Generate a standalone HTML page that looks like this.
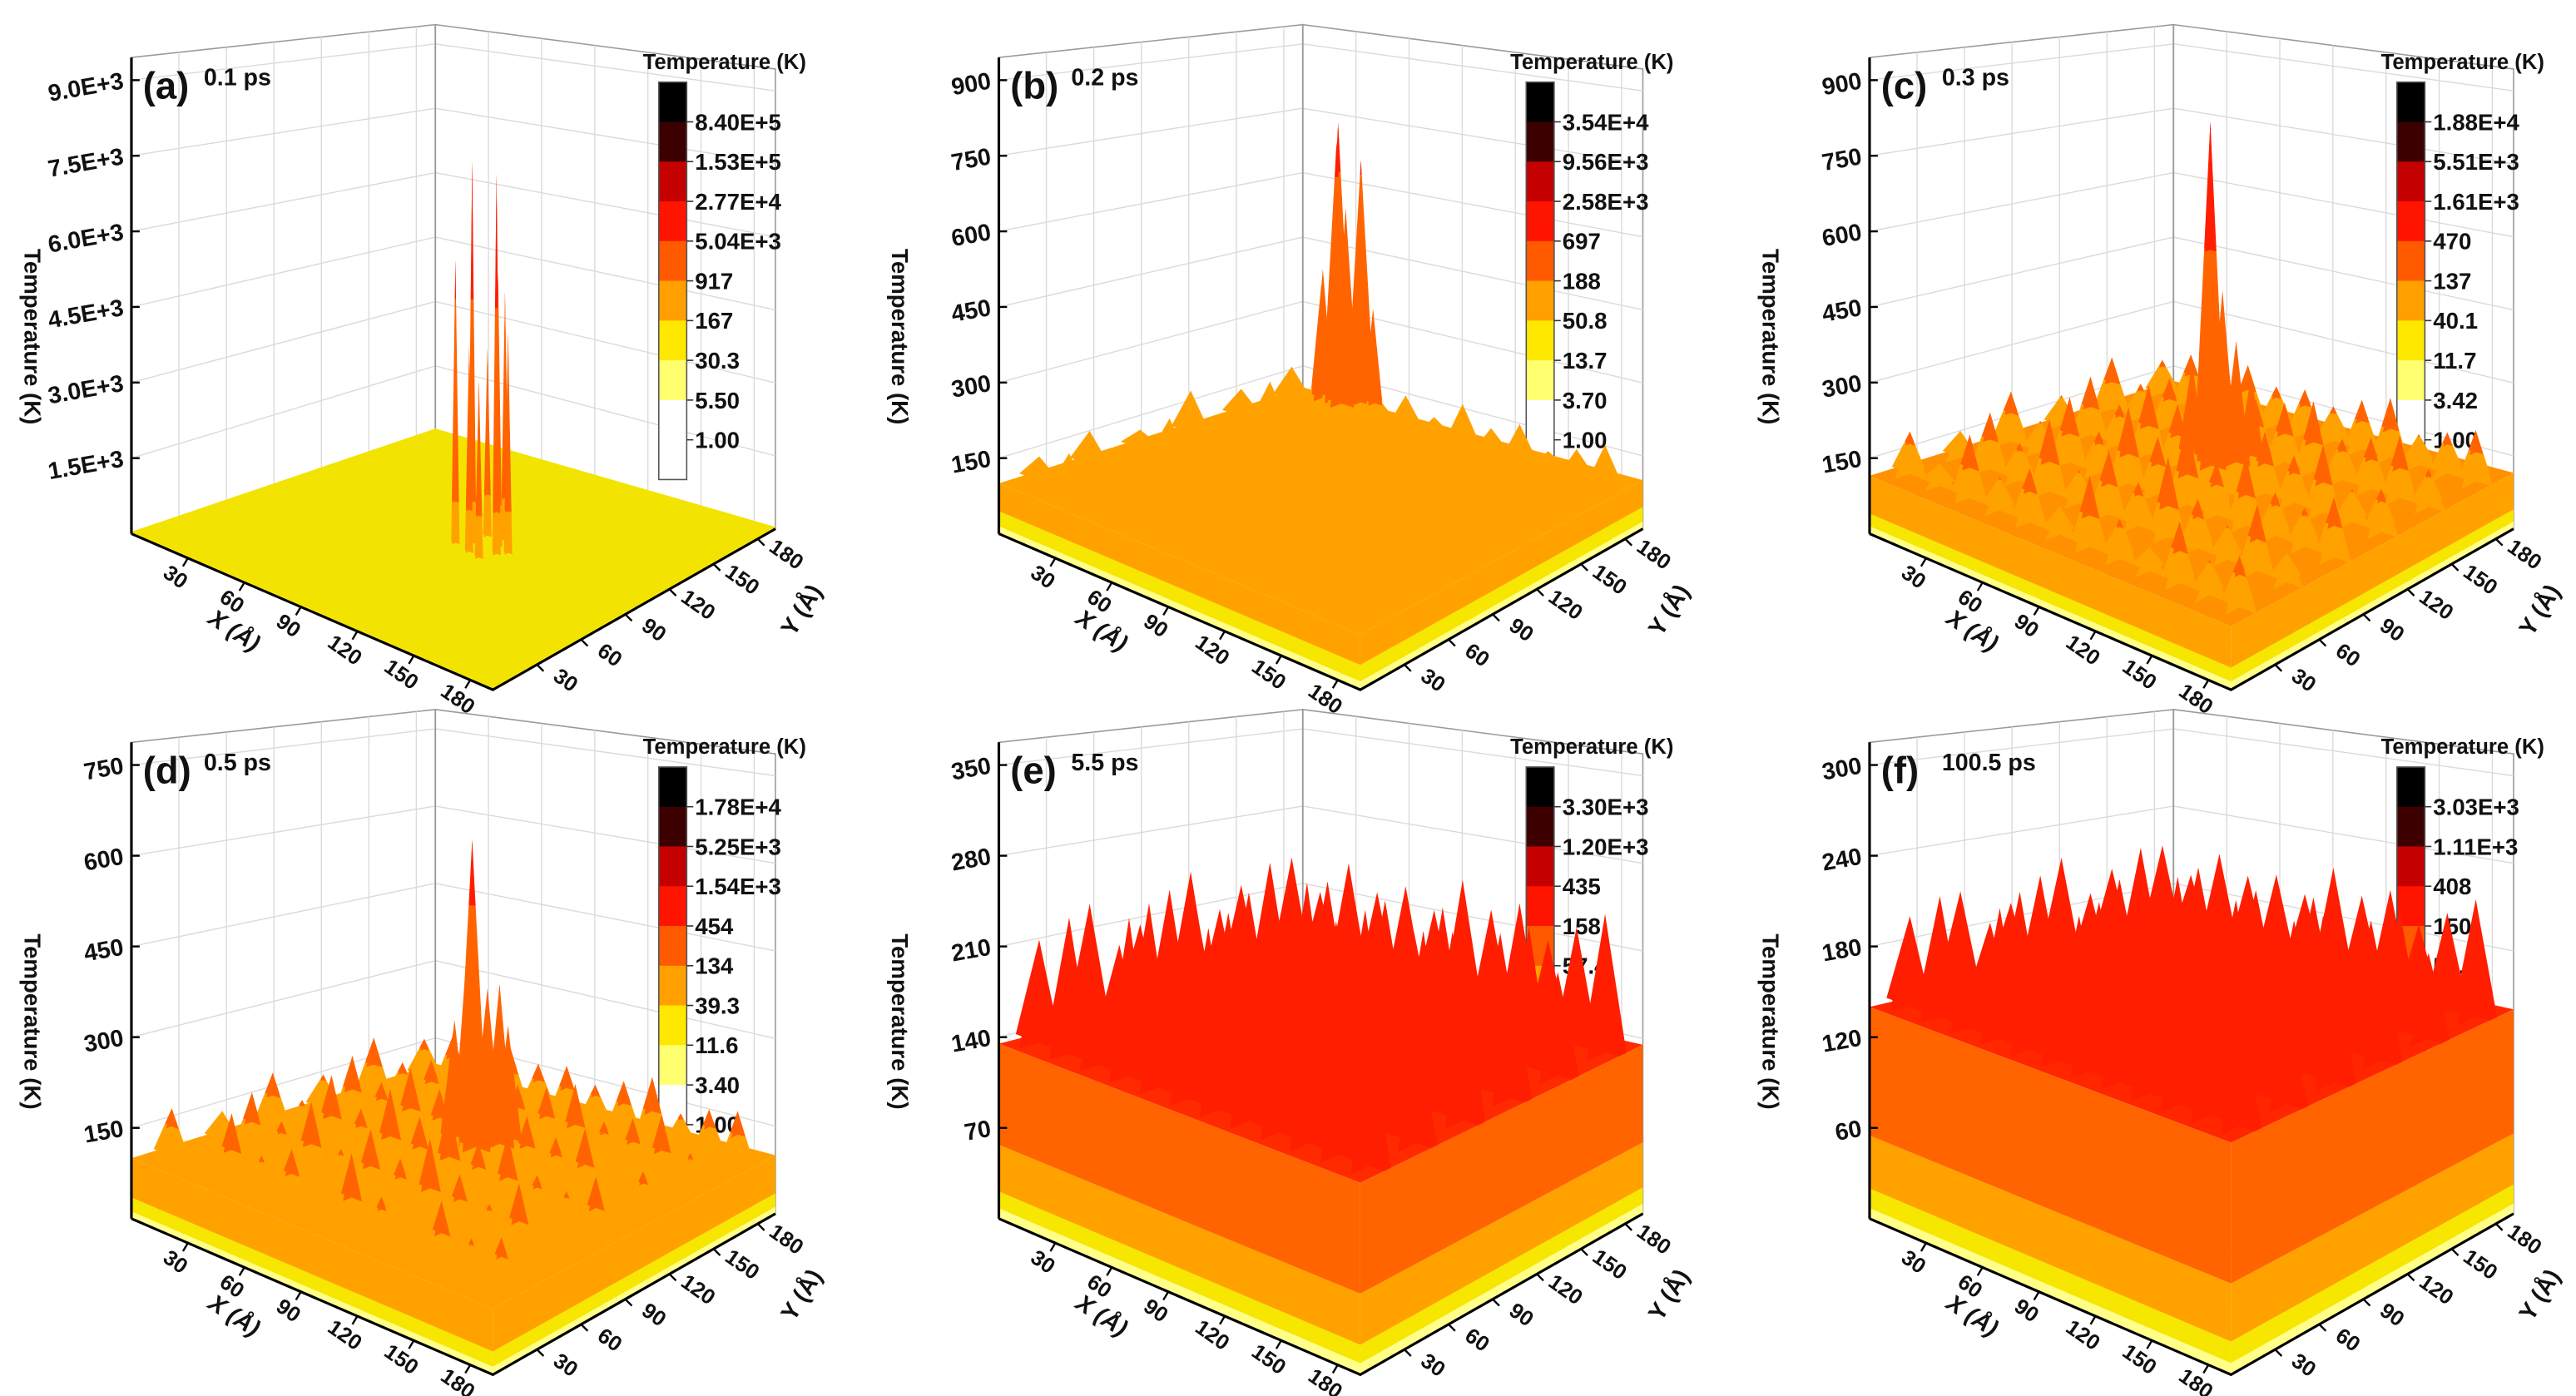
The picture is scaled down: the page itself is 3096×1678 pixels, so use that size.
<!DOCTYPE html>
<html><head><meta charset="utf-8"><style>
html,body{margin:0;padding:0;background:#fff;}
svg{display:block;font-family:"Liberation Sans",Arial,sans-serif;}
</style></head><body>
<svg id="chart" xmlns="http://www.w3.org/2000/svg" width="3096" height="1678" viewBox="0 0 1568 850" preserveAspectRatio="none"></svg>
<script>
// ---------- data ----------
const panelLetters = ['(a)','(b)','(c)','(d)','(e)','(f)'];
const panelTimes = ['0.1 ps','0.2 ps','0.3 ps','0.5 ps','5.5 ps','100.5 ps'];
const zMax = [9000,900,900,750,350,300];
const zTicksA = [1500,3000,4500,6000,7500,9000];
const zTickLabelsA = ['1.5E+3','3.0E+3','4.5E+3','6.0E+3','7.5E+3','9.0E+3'];
const zTicksB = [150,300,450,600,750,900];
const zTicksC = [150,300,450,600,750,900];
const zTicksD = [150,300,450,600,750];
const zTicksE = [70,140,210,280,350];
const zTicksF = [60,120,180,240,300];
const cbLabelsA = ['8.40E+5','1.53E+5','2.77E+4','5.04E+3','917','167','30.3','5.50','1.00'];
const cbLabelsB = ['3.54E+4','9.56E+3','2.58E+3','697','188','50.8','13.7','3.70','1.00'];
const cbLabelsC = ['1.88E+4','5.51E+3','1.61E+3','470','137','40.1','11.7','3.42','1.00'];
const cbLabelsD = ['1.78E+4','5.25E+3','1.54E+3','454','134','39.3','11.6','3.40','1.00'];
const cbLabelsE = ['3.30E+3','1.20E+3','435','158','57.4','20.9','7.58','2.75','1.00'];
const cbLabelsF = ['3.03E+3','1.11E+3','408','150','55.0','20.2','7.42','2.72','1.00'];
const xyTicks = [30,60,90,120,150,180];
const plateau = [40,100,115,100,135,140];
const thrA = [5,60,900,5000];
const thrB = [15,45,300,750];
const thrC = [15,40,175,600];
const thrD = [12,35,150,550];
const thrE = [8,21,57,135];
const thrF = [7,20,55,140];
const gridB = [
 [150,180,130,200,160,140,190,170,130,185,150,165],
 [170,140,195,150,175,205,160,140,180,155,190,145],
 [140,185,160,175,140,190,150,200,165,135,170,180],
 [190,150,175,135,200,160,185,150,175,190,145,160],
 [160,195,140,185,150,175,140,180,155,170,200,150],
 [175,145,190,160,180,150,195,160,185,145,165,190]];
const gridC = [
 [200,160,240,180,220,170,250,190,160,230,180,210],
 [170,230,190,260,180,240,200,270,210,180,240,170],
 [220,180,250,200,270,230,280,220,250,200,190,230],
 [180,240,200,260,240,280,260,240,210,250,180,200],
 [230,190,220,200,250,230,240,260,200,220,240,190],
 [190,220,180,230,200,210,190,220,240,180,200,220]];
const gridD = [
 [180,140,210,160,190,150,220,170,140,200,160,180],
 [150,200,170,220,160,210,180,230,190,160,210,150],
 [190,160,220,180,230,200,240,190,220,170,160,200],
 [160,210,180,220,200,240,220,200,180,210,150,170],
 [200,170,190,170,210,190,200,220,170,190,210,160],
 [170,190,160,200,180,190,170,190,210,160,180,190]];
const gridE = [
 [215,240,200,255,225,210,250,235,200,240,215,230],
 [235,210,250,220,245,270,225,215,245,225,250,210],
 [210,245,225,240,215,255,240,265,230,205,240,245],
 [245,220,240,210,260,235,250,225,245,250,215,225],
 [225,250,215,245,225,240,220,245,220,235,245,215],
 [240,215,245,225,235,220,250,230,240,215,230,245]];
const gridF = [
 [200,220,190,225,205,195,222,210,190,218,200,208],
 [210,195,222,200,218,230,205,195,220,205,225,193],
 [195,220,205,213,195,225,210,230,207,190,215,217],
 [220,200,215,193,227,207,221,203,217,225,195,205],
 [205,225,195,220,205,213,197,217,201,210,221,197],
 [215,197,217,205,210,200,223,207,215,195,207,220]];
const peakXA = [95,100,105,110,115,100,108,118,112];
const peakYA = [95,100,92,105,98,110,112,102,90];
const peakTA = [5800,7800,4200,5600,7700,3900,5100,4500,3600];
const peakXB = [90,95,100,105,110,100,95,105,110,115,100];
const peakYB = [100,105,98,108,102,112,95,95,110,105,104];
const peakTB = [520,850,820,780,640,600,560,700,480,430,680];
const peakXC = [100,95,105,110,100,90,110,105];
const peakYC = [100,105,95,105,110,100,115,102];
const peakTC = [860,480,450,420,400,360,340,520];
const peakXD = [100,95,105,110,100,92,108];
const peakYD = [100,104,96,106,110,98,114];
const peakTD = [660,520,480,420,400,350,340];

const panels = [
 {zt:zTicksA, zl:zTickLabelsA, cb:cbLabelsA, thr:thrA, grid:null,  px:peakXA, py:peakYA, pt:peakTA, hw:0.012},
 {zt:zTicksB, zl:null, cb:cbLabelsB, thr:thrB, grid:gridB, px:peakXB, py:peakYB, pt:peakTB, hw:0.055},
 {zt:zTicksC, zl:null, cb:cbLabelsC, thr:thrC, grid:gridC, px:peakXC, py:peakYC, pt:peakTC, hw:0.05},
 {zt:zTicksD, zl:null, cb:cbLabelsD, thr:thrD, grid:gridD, px:peakXD, py:peakYD, pt:peakTD, hw:0.05},
 {zt:zTicksE, zl:null, cb:cbLabelsE, thr:thrE, grid:gridE, px:[], py:[], pt:[], hw:0.065},
 {zt:zTicksF, zl:null, cb:cbLabelsF, thr:thrF, grid:gridF, px:[], py:[], pt:[], hw:0.065}
];

// ---------- layout / style ----------
const NS = 'http://www.w3.org/2000/svg';
const svg = document.getElementById('chart');
const COLS = ['#ffff8a','#f7e600','#ffa200','#ff6400','#ff1e00'];
const TOPCOL = ['#f2e400','#ffa200','#ff9000','#ffa000','#ff2a00','#ff2600'];
const CBCOLS = ['#000000','#3c0000','#c40000','#ff1400','#ff5a00','#ffa000','#ffe800','#ffff70','#ffffff','#ffffff'];
const offX = [0,528,1058,0,528,1058];
const offY = [0,0,0,417,417,417];
const gL=[80,325], gF=[300,420], gR=[472,322], gB=[265,262];
const hL=290, hF=318, hR=280, hB=247;
const AX = 192;

function mk(tag, attrs, parent){
  const e = document.createElementNS(NS, tag);
  for (const k in attrs) e.setAttribute(k, attrs[k]);
  parent.appendChild(e);
  return e;
}
function bil(a,b,c,d,u,v){
  return (1-u)*(1-v)*a + u*(1-v)*b + u*v*c + (1-u)*v*d;
}
function colorOf(thr, val){
  for (let i=0;i<thr.length;i++) if (val < thr[i]) return COLS[i];
  return COLS[thr.length];
}

panels.forEach((p, idx) => {
  const ox = offX[idx], oy = offY[idx];
  const zTop = zMax[idx]*1.05;
  const P = (u,v,z) => {
    const x = bil(gL[0],gF[0],gR[0],gB[0],u,v) + ox;
    const y = bil(gL[1],gF[1],gR[1],gB[1],u,v) + oy;
    const H = bil(hL,hF,hR,hB,u,v);
    return [x, y - z/zTop*H];
  };
  const pts = arr => arr.map(q => q[0].toFixed(2)+','+q[1].toFixed(2)).join(' ');
  const g = mk('g', {}, svg);
  
  

  const wallL = mk('polygon', {points: pts([P(0,0,0),P(0,1,0),P(0,1,zTop),P(0,0,zTop)]), fill:'#fff', stroke:'#9a9a9a', 'stroke-width':0.8}, g);
  
  
  const wallR = mk('polygon', {points: pts([P(0,1,0),P(1,1,0),P(1,1,zTop),P(0,1,zTop)]), fill:'#fff', stroke:'#9a9a9a', 'stroke-width':0.8}, g);
  
  
  const grid = mk('g', {stroke:'#dadada', 'stroke-width':0.7, fill:'none'}, g);
  
  
  xyTicks.forEach(t => {
    const f = t/AX;
    mk('line', {x1:P(0,f,0)[0], y1:P(0,f,0)[1], x2:P(0,f,zTop)[0], y2:P(0,f,zTop)[1]}, grid);
    mk('line', {x1:P(f,1,0)[0], y1:P(f,1,0)[1], x2:P(f,1,zTop)[0], y2:P(f,1,zTop)[1]}, grid);
    mk('line', {x1:P(f,0,0)[0], y1:P(f,0,0)[1], x2:P(f,1,0)[0], y2:P(f,1,0)[1]}, grid);
    mk('line', {x1:P(0,f,0)[0], y1:P(0,f,0)[1], x2:P(1,f,0)[0], y2:P(1,f,0)[1]}, grid);
  });
  p.zt.forEach(z => {
    mk('polyline', {points: pts([P(0,0,z),P(0,1,z),P(1,1,z)])}, grid);
  });
  mk('line', {x1:P(0,1,0)[0], y1:P(0,1,0)[1], x2:P(0,1,zTop)[0], y2:P(0,1,zTop)[1], stroke:'#9a9a9a','stroke-width':0.9}, g);

  const cb = mk('g', {}, g);
  
  
  const cbx = 401+ox, cby = 50+oy, cbw = 17, seg = 24.2;
  CBCOLS.forEach((c,i) => {
    mk('rect', {x:cbx, y:cby+i*seg, width:cbw, height:seg+0.3, fill:c}, cb);
  });
  mk('rect', {x:cbx, y:cby, width:cbw, height:seg*10, fill:'none', stroke:'#555', 'stroke-width':0.8}, cb);
  p.cb.forEach((lab,i) => {
    const yy = cby + (i+1)*seg;
    mk('line', {x1:cbx+cbw, y1:yy, x2:cbx+cbw+4, y2:yy, stroke:'#333', 'stroke-width':0.8}, cb);
    const t = mk('text', {x:cbx+cbw+5, y:yy+5, 'font-size':14, 'font-weight':'bold', fill:'#111'}, cb);
    t.textContent = lab;
    
    
  });
  const cbt = mk('text', {x:cbx+40, y:cby-8, 'font-size':13, 'font-weight':'bold', 'text-anchor':'middle', fill:'#111'}, cb);
  cbt.textContent = 'Temperature (K)';
  
  

  const surf = mk('g', {}, g);
  
  
  const pl = plateau[idx];
  mk('polygon', {points: pts([P(0,0,pl),P(1,0,pl),P(1,1,pl),P(0,1,pl)]), fill:TOPCOL[idx]}, surf);

  const spikes = [];
  if (p.grid) {
    const R = p.grid.length;
    p.grid.forEach((row, r) => {
      const C = row.length;
      row.forEach((val, c) => {
        spikes.push({u:(c+0.5)/C, v:(r+0.5)/R, val:val, hw:p.hw});
      });
    });
  }
  p.pt.forEach((val,i) => {
    spikes.push({u:p.px[i]/AX, v:p.py[i]/AX, val:val, hw:p.hw});
  });
  spikes.sort((a,b) => (a.u - a.v) - (b.u - b.v));
  spikes.forEach(s => {
    if (s.val <= pl) return;
    const levels = [pl];
    p.thr.forEach(t => { if (t > pl && t < s.val) levels.push(t); });
    levels.push(s.val);
    const w = z => s.hw*(s.val - z)/(s.val - pl);
    for (let k=0;k<levels.length-1;k++){
      const za = levels[k], zb = levels[k+1];
      const col = colorOf(p.thr, (za+zb)/2);
      const q1 = mk('polygon', {points: pts([P(s.u-w(za),s.v,za),P(s.u+w(za),s.v,za),P(s.u+w(zb),s.v,zb),P(s.u-w(zb),s.v,zb)]), fill:col}, surf);
      
      
      const q2 = mk('polygon', {points: pts([P(s.u,s.v-w(za),za),P(s.u,s.v+w(za),za),P(s.u,s.v+w(zb),zb),P(s.u,s.v-w(zb),zb)]), fill:col}, surf);
      
      
    }
  });
  const lv = [0];
  p.thr.forEach(t => { if (t < pl) lv.push(t); });
  lv.push(pl);
  for (let k=0;k<lv.length-1;k++){
    const za = lv[k], zb = lv[k+1];
    const col = colorOf(p.thr, (za+zb)/2);
    const f1 = mk('polygon', {points: pts([P(0,0,za),P(1,0,za),P(1,0,zb),P(0,0,zb)]), fill:col}, surf);
    
    
    const f2 = mk('polygon', {points: pts([P(1,0,za),P(1,1,za),P(1,1,zb),P(1,0,zb)]), fill:col}, surf);
    
    
  }

  const ax = mk('g', {stroke:'#000', 'stroke-width':1.6, fill:'none'}, g);
  
  
  mk('line', {x1:P(0,0,0)[0], y1:P(0,0,0)[1], x2:P(0,0,zTop)[0], y2:P(0,0,zTop)[1]}, ax);
  mk('polyline', {points: pts([P(0,0,0),P(1,0,0),P(1,1,0)])}, ax);
  const txt = mk('g', {'font-size':14.5, 'font-weight':'bold', fill:'#111'}, g);
  p.zt.forEach((z,i) => {
    const q = P(0,0,z);
    mk('line', {x1:q[0], y1:q[1], x2:q[0]+5, y2:q[1], stroke:'#000', 'stroke-width':1.2}, g);
    const t = mk('text', {x:q[0]-5, y:q[1]+5, 'text-anchor':'end', transform:`rotate(-10 ${q[0]-5} ${q[1]})`}, txt);
    t.textContent = p.zl ? p.zl[i] : String(z);
    
    
  });
  xyTicks.forEach(v => {
    const f = v/AX;
    const a = P(f,0,0);
    mk('line', {x1:a[0], y1:a[1], x2:a[0]-3, y2:a[1]+5, stroke:'#000', 'stroke-width':1.2}, g);
    const tx = mk('text', {x:a[0]-10, y:a[1]+15, 'text-anchor':'middle', 'font-size':13, transform:`rotate(35 ${a[0]-10} ${a[1]+15})`}, txt);
    tx.textContent = String(v);
    
    
    const b = P(1,f,0);
    mk('line', {x1:b[0], y1:b[1], x2:b[0]+4, y2:b[1]+4, stroke:'#000', 'stroke-width':1.2}, g);
    const ty = mk('text', {x:b[0]+15, y:b[1]+13, 'text-anchor':'middle', 'font-size':13, transform:`rotate(35 ${b[0]+15} ${b[1]+13})`}, txt);
    ty.textContent = String(v);
    
    
  });
  const xt = mk('text', {x:140+ox, y:388+oy, 'text-anchor':'middle', 'font-style':'italic', transform:`rotate(33 ${140+ox} ${388+oy})`}, txt);
  xt.textContent = 'X (\u00c5)';
  
  
  const yt = mk('text', {x:492+ox, y:374+oy, 'text-anchor':'middle', transform:`rotate(-58 ${492+ox} ${374+oy})`}, txt);
  yt.textContent = 'Y (\u00c5)';
  
  
  const zt = mk('text', {x:15+ox, y:205+oy, 'text-anchor':'middle', 'font-size':14, transform:`rotate(90 ${15+ox} ${205+oy})`}, txt);
  zt.textContent = 'Temperature (K)';
  
  
  const lt = mk('text', {x:87+ox, y:60+oy, 'font-size':23, 'font-weight':'bold', fill:'#111'}, g);
  lt.textContent = panelLetters[idx];
  
  
  const tt = mk('text', {x:124+ox, y:52+oy, 'font-size':14.5, 'font-weight':'bold', fill:'#111'}, g);
  tt.textContent = panelTimes[idx];
  
  
});
</script>
</body></html>
